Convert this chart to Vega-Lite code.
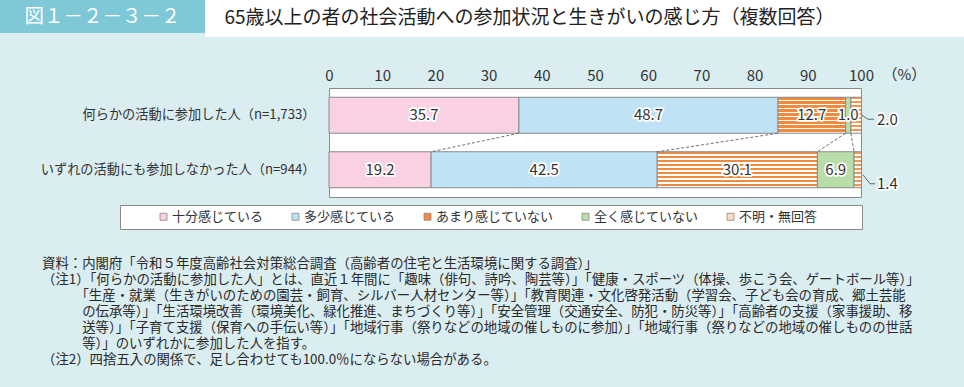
{
  "$schema": "https://vega.github.io/schema/vega-lite/v6.json",
  "background": "#daedf1",
  "padding": {"left": 0, "top": 0, "right": 0, "bottom": 25},
  "config": {"font": "Noto Sans CJK JP", "view": {"stroke": null}},
  "datasets": {
    "main": [
      {"row": "何らかの活動に参加した人（n=1,733）", "cat": "十分感じている", "k": 1, "value": 35.7},
      {"row": "何らかの活動に参加した人（n=1,733）", "cat": "多少感じている", "k": 2, "value": 48.7},
      {"row": "何らかの活動に参加した人（n=1,733）", "cat": "あまり感じていない", "k": 3, "value": 12.7},
      {"row": "何らかの活動に参加した人（n=1,733）", "cat": "全く感じていない", "k": 4, "value": 1.0},
      {"row": "何らかの活動に参加した人（n=1,733）", "cat": "不明・無回答", "k": 5, "value": 2.0},
      {"row": "いずれの活動にも参加しなかった人（n=944）", "cat": "十分感じている", "k": 1, "value": 19.2},
      {"row": "いずれの活動にも参加しなかった人（n=944）", "cat": "多少感じている", "k": 2, "value": 42.5},
      {"row": "いずれの活動にも参加しなかった人（n=944）", "cat": "あまり感じていない", "k": 3, "value": 30.1},
      {"row": "いずれの活動にも参加しなかった人（n=944）", "cat": "全く感じていない", "k": 4, "value": 6.9},
      {"row": "いずれの活動にも参加しなかった人（n=944）", "cat": "不明・無回答", "k": 5, "value": 1.4}
    ]
  },
  "bounds": "flush",
  "spacing": 88,
  "resolve": {"legend": {"fill": "independent"}},
  "vconcat": [
    {
      "hconcat": [
        {
          "width": 205,
          "height": 33,
          "view": {"fill": "#7ec8d8", "stroke": null},
          "data": {"values": [{"label": "図１－２－３－２"}]},
          "mark": {"type": "text", "color": "white", "fontSize": 19.5, "align": "center", "baseline": "middle"},
          "encoding": {"text": {"field": "label"}}
        },
        {
          "width": 759,
          "height": 37,
          "view": {"fill": "white", "stroke": null},
          "data": {"values": [{"title": "65歳以上の者の社会活動への参加状況と生きがいの感じ方（複数回答）"}]},
          "mark": {"type": "text", "color": "#222", "fontSize": 19, "align": "center", "baseline": "middle", "dx": -55, "dy": -1},
          "encoding": {"text": {"field": "title"}}
        }
      ],
      "spacing": 0,
      "bounds": "flush"
    },
    {
      "hconcat": [
        {
          "width": 314,
          "height": 109,
          "data": {"values": []},
          "mark": {"type": "text"},
          "encoding": {"text": {"field": "blank"}}
        },
        {
          "width": 532,
          "height": 109,
          "view": {"fill": "white", "stroke": "#8a8a8a", "strokeWidth": 1},
          "data": {"name": "main"},
          "title": {
            "text": [
              "資料：内閣府「令和５年度高齢社会対策総合調査（高齢者の住宅と生活環境に関する調査）」",
              "（注1）「何らかの活動に参加した人」とは、直近１年間に「趣味（俳句、詩吟、陶芸等）」「健康・スポーツ（体操、歩こう会、ゲートボール等）」",
              "\u200b　　　「生産・就業（生きがいのための園芸・飼育、シルバー人材センター等）」「教育関連・文化啓発活動（学習会、子ども会の育成、郷土芸能",
              "\u200b　　　の伝承等）」「生活環境改善（環境美化、緑化推進、まちづくり等）」「安全管理（交通安全、防犯・防災等）」「高齢者の支援（家事援助、移",
              "\u200b　　　送等）」「子育て支援（保育への手伝い等）」「地域行事（祭りなどの地域の催しものに参加）」「地域行事（祭りなどの地域の催しものの世話",
              "\u200b　　　等）」のいずれかに参加した人を指す。",
              "（注2）四捨五入の関係で、足し合わせても100.0％にならない場合がある。"
            ],
            "orient": "bottom",
            "anchor": "start",
            "frame": "group",
            "dx": -287,
            "offset": 27.5,
            "baseline": "top",
            "fontSize": 13.4,
            "fontWeight": "normal",
            "color": "#2a2a2a",
            "lineHeight": 16
          },
          "layer": [
            {
              "mark": {"type": "bar", "stroke": "#8a8a8a", "strokeWidth": 1},
              "encoding": {
                "y": {
                  "field": "row", "type": "nominal",
                  "scale": {"domain": ["何らかの活動に参加した人（n=1,733）", "いずれの活動にも参加しなかった人（n=944）"], "paddingInner": 0.34, "paddingOuter": 0.17},
                  "axis": {"title": null, "domain": false, "ticks": false, "labelFontSize": 13.2, "labelColor": "#333333", "labelPadding": 14, "labelLimit": 400}
                },
                "x": {
                  "field": "value", "type": "quantitative", "stack": "zero",
                  "scale": {"domain": [0, 100], "nice": false},
                  "axis": {
                    "orient": "top", "values": [0, 10, 20, 30, 40, 50, 60, 70, 80, 90, 100],
                    "domain": false, "ticks": false, "tickSize": 0, "grid": false, "labelFlush": false, "labelOverlap": false,
                    "labelFontSize": 15, "labelColor": "#333333", "labelPadding": 5,
                    "title": "（%）", "titleX": 553, "titleY": -14, "titleAlign": "left", "titleBaseline": "middle", "titleAngle": 0,
                    "titleFontSize": 15, "titleFontWeight": "normal", "titleColor": "#333333"
                  }
                },
                "order": {"field": "k", "type": "quantitative"},
                "fill": {
                  "field": "cat", "type": "nominal",
                  "scale": {
                    "domain": ["十分感じている", "多少感じている", "あまり感じていない", "全く感じていない", "不明・無回答"],
                    "range": ["#f9d1e2", "#bfe3f5", "#f08a3e", "#b9dcab", "#fcd9bf"]
                  },
                  "legend": {
                    "orient": "none", "legendX": -209, "legendY": 117, "direction": "horizontal", "columns": 5,
                    "title": "\u200b　　\u200b", "titleOrient": "left", "titleFontSize": 13, "titlePadding": 5,
                    "fillColor": "white", "strokeColor": "#8a8a8a", "padding": 5,
                    "symbolType": "square", "symbolSize": 49, "symbolStrokeWidth": 0.8, "symbolStrokeColor": "#888888", "symbolOpacity": 1,
                    "labelFontSize": 13, "labelColor": "#333333", "labelOffset": 2, "columnPadding": 25,
                    "labelExpr": "datum.label == '不明・無回答' ? datum.label + '　　　\u200b' : datum.label"
                  },
                  "condition": [
                    {"test": "datum.k === 3", "value": {"gradient": "linear", "x1": 0, "y1": 0, "x2": 0, "y2": 1, "stops": [
                      {"offset": 0, "color": "#f08a3e"}, {"offset": 0.069, "color": "#f08a3e"}, {"offset": 0.069, "color": "#ffffff"}, {"offset": 0.111, "color": "#ffffff"},
                      {"offset": 0.111, "color": "#f08a3e"}, {"offset": 0.18, "color": "#f08a3e"}, {"offset": 0.18, "color": "#ffffff"}, {"offset": 0.222, "color": "#ffffff"},
                      {"offset": 0.222, "color": "#f08a3e"}, {"offset": 0.291, "color": "#f08a3e"}, {"offset": 0.291, "color": "#ffffff"}, {"offset": 0.333, "color": "#ffffff"},
                      {"offset": 0.333, "color": "#f08a3e"}, {"offset": 0.402, "color": "#f08a3e"}, {"offset": 0.402, "color": "#ffffff"}, {"offset": 0.444, "color": "#ffffff"},
                      {"offset": 0.444, "color": "#f08a3e"}, {"offset": 0.513, "color": "#f08a3e"}, {"offset": 0.513, "color": "#ffffff"}, {"offset": 0.556, "color": "#ffffff"},
                      {"offset": 0.556, "color": "#f08a3e"}, {"offset": 0.624, "color": "#f08a3e"}, {"offset": 0.624, "color": "#ffffff"}, {"offset": 0.667, "color": "#ffffff"},
                      {"offset": 0.667, "color": "#f08a3e"}, {"offset": 0.736, "color": "#f08a3e"}, {"offset": 0.736, "color": "#ffffff"}, {"offset": 0.778, "color": "#ffffff"},
                      {"offset": 0.778, "color": "#f08a3e"}, {"offset": 0.847, "color": "#f08a3e"}, {"offset": 0.847, "color": "#ffffff"}, {"offset": 0.889, "color": "#ffffff"},
                      {"offset": 0.889, "color": "#f08a3e"}, {"offset": 0.958, "color": "#f08a3e"}, {"offset": 0.958, "color": "#ffffff"}, {"offset": 1, "color": "#ffffff"}
                    ]}},
                    {"test": "datum.k === 5", "value": {"gradient": "linear", "x1": 0, "y1": 0, "x2": 0, "y2": 1, "stops": [
                      {"offset": 0, "color": "#f29650"}, {"offset": 0.05, "color": "#f29650"}, {"offset": 0.05, "color": "#ffffff"}, {"offset": 0.111, "color": "#ffffff"},
                      {"offset": 0.111, "color": "#f29650"}, {"offset": 0.161, "color": "#f29650"}, {"offset": 0.161, "color": "#ffffff"}, {"offset": 0.222, "color": "#ffffff"},
                      {"offset": 0.222, "color": "#f29650"}, {"offset": 0.272, "color": "#f29650"}, {"offset": 0.272, "color": "#ffffff"}, {"offset": 0.333, "color": "#ffffff"},
                      {"offset": 0.333, "color": "#f29650"}, {"offset": 0.383, "color": "#f29650"}, {"offset": 0.383, "color": "#ffffff"}, {"offset": 0.444, "color": "#ffffff"},
                      {"offset": 0.444, "color": "#f29650"}, {"offset": 0.494, "color": "#f29650"}, {"offset": 0.494, "color": "#ffffff"}, {"offset": 0.556, "color": "#ffffff"},
                      {"offset": 0.556, "color": "#f29650"}, {"offset": 0.606, "color": "#f29650"}, {"offset": 0.606, "color": "#ffffff"}, {"offset": 0.667, "color": "#ffffff"},
                      {"offset": 0.667, "color": "#f29650"}, {"offset": 0.717, "color": "#f29650"}, {"offset": 0.717, "color": "#ffffff"}, {"offset": 0.778, "color": "#ffffff"},
                      {"offset": 0.778, "color": "#f29650"}, {"offset": 0.828, "color": "#f29650"}, {"offset": 0.828, "color": "#ffffff"}, {"offset": 0.889, "color": "#ffffff"},
                      {"offset": 0.889, "color": "#f29650"}, {"offset": 0.939, "color": "#f29650"}, {"offset": 0.939, "color": "#ffffff"}, {"offset": 1, "color": "#ffffff"}
                    ]}}
                  ]
                }
              }
            },
            {
              "transform": [
                {"stack": "value", "groupby": ["row"], "sort": [{"field": "k", "order": "ascending"}], "as": ["v0", "v1"]},
                {"filter": "datum.k < 5"},
                {"pivot": "row", "value": "v1", "groupby": ["k"]}
              ],
              "mark": {"type": "rule", "color": "#707070", "strokeDash": [3, 2], "strokeWidth": 1},
              "encoding": {
                "x": {"field": "何らかの活動に参加した人（n=1,733）", "type": "quantitative"},
                "x2": {"field": "いずれの活動にも参加しなかった人（n=944）"},
                "y": {"datum": "何らかの活動に参加した人（n=1,733）", "type": "nominal", "bandPosition": 1},
                "y2": {"datum": "いずれの活動にも参加しなかった人（n=944）", "bandPosition": 0}
              }
            },
            {
              "transform": [{"filter": "datum.k < 5"}],
              "mark": {"type": "text", "fontSize": 15, "fill": "white", "stroke": "white", "strokeWidth": 3.5, "strokeJoin": "round"},
              "encoding": {
                "y": {"field": "row", "type": "nominal"},
                "x": {"field": "value", "type": "quantitative", "stack": "zero", "bandPosition": 0.5},
                "order": {"field": "k", "type": "quantitative"},
                "detail": {"field": "cat"},
                "text": {"field": "value", "type": "quantitative", "format": ".1f"}
              }
            },
            {
              "transform": [{"filter": "datum.k < 5"}],
              "mark": {"type": "text", "fontSize": 15, "fill": "#333333"},
              "encoding": {
                "y": {"field": "row", "type": "nominal"},
                "x": {"field": "value", "type": "quantitative", "stack": "zero", "bandPosition": 0.5},
                "order": {"field": "k", "type": "quantitative"},
                "detail": {"field": "cat"},
                "text": {"field": "value", "type": "quantitative", "format": ".1f"}
              }
            },
            {
              "transform": [{"filter": {"and": [{"field": "k", "equal": 5}, {"field": "row", "equal": "何らかの活動に参加した人（n=1,733）"}]}}],
              "mark": {"type": "rule", "color": "#666666", "strokeWidth": 1, "xOffset": 1, "x2Offset": 7, "yOffset": 0, "y2Offset": 4},
              "encoding": {
                "x": {"datum": 100, "type": "quantitative"}, "x2": {"datum": 100},
                "y": {"field": "row", "type": "nominal", "bandPosition": 0.5}, "y2": {"field": "row", "bandPosition": 0.5}
              }
            },
            {
              "transform": [{"filter": {"and": [{"field": "k", "equal": 5}, {"field": "row", "equal": "何らかの活動に参加した人（n=1,733）"}]}}],
              "mark": {"type": "rule", "color": "#666666", "strokeWidth": 1, "xOffset": 7, "x2Offset": 13, "yOffset": 4, "y2Offset": 4},
              "encoding": {
                "x": {"datum": 100, "type": "quantitative"}, "x2": {"datum": 100},
                "y": {"field": "row", "type": "nominal", "bandPosition": 0.5}, "y2": {"field": "row", "bandPosition": 0.5}
              }
            },
            {
              "transform": [{"filter": {"and": [{"field": "k", "equal": 5}, {"field": "row", "equal": "いずれの活動にも参加しなかった人（n=944）"}]}}],
              "mark": {"type": "rule", "color": "#666666", "strokeWidth": 1, "xOffset": 2, "x2Offset": 9, "yOffset": 5, "y2Offset": 14},
              "encoding": {
                "x": {"datum": 100, "type": "quantitative"}, "x2": {"datum": 100},
                "y": {"field": "row", "type": "nominal", "bandPosition": 0.5}, "y2": {"field": "row", "bandPosition": 0.5}
              }
            },
            {
              "transform": [{"filter": {"and": [{"field": "k", "equal": 5}, {"field": "row", "equal": "いずれの活動にも参加しなかった人（n=944）"}]}}],
              "mark": {"type": "rule", "color": "#666666", "strokeWidth": 1, "xOffset": 9, "x2Offset": 14, "yOffset": 14, "y2Offset": 14},
              "encoding": {
                "x": {"datum": 100, "type": "quantitative"}, "x2": {"datum": 100},
                "y": {"field": "row", "type": "nominal", "bandPosition": 0.5}, "y2": {"field": "row", "bandPosition": 0.5}
              }
            },
            {
              "transform": [{"filter": {"and": [{"field": "k", "equal": 5}, {"field": "row", "equal": "何らかの活動に参加した人（n=1,733）"}]}}],
              "mark": {"type": "text", "fontSize": 15, "align": "left", "dx": 16, "dy": 5, "fill": "white", "stroke": "white", "strokeWidth": 3.5, "strokeJoin": "round"},
              "encoding": {"x": {"datum": 100, "type": "quantitative"}, "y": {"field": "row", "type": "nominal"}, "text": {"field": "value", "type": "quantitative", "format": ".1f"}}
            },
            {
              "transform": [{"filter": {"and": [{"field": "k", "equal": 5}, {"field": "row", "equal": "何らかの活動に参加した人（n=1,733）"}]}}],
              "mark": {"type": "text", "fontSize": 15, "align": "left", "dx": 16, "dy": 5, "fill": "#333333"},
              "encoding": {"x": {"datum": 100, "type": "quantitative"}, "y": {"field": "row", "type": "nominal"}, "text": {"field": "value", "type": "quantitative", "format": ".1f"}}
            },
            {
              "transform": [{"filter": {"and": [{"field": "k", "equal": 5}, {"field": "row", "equal": "いずれの活動にも参加しなかった人（n=944）"}]}}],
              "mark": {"type": "text", "fontSize": 15, "align": "left", "dx": 16, "dy": 14, "fill": "white", "stroke": "white", "strokeWidth": 3.5, "strokeJoin": "round"},
              "encoding": {"x": {"datum": 100, "type": "quantitative"}, "y": {"field": "row", "type": "nominal"}, "text": {"field": "value", "type": "quantitative", "format": ".1f"}}
            },
            {
              "transform": [{"filter": {"and": [{"field": "k", "equal": 5}, {"field": "row", "equal": "いずれの活動にも参加しなかった人（n=944）"}]}}],
              "mark": {"type": "text", "fontSize": 15, "align": "left", "dx": 16, "dy": 14, "fill": "#333333"},
              "encoding": {"x": {"datum": 100, "type": "quantitative"}, "y": {"field": "row", "type": "nominal"}, "text": {"field": "value", "type": "quantitative", "format": ".1f"}}
            }
          ]
        }
      ],
      "spacing": 15,
      "bounds": "flush",
      "resolve": {"legend": {"fill": "independent"}}
    }
  ]
}
